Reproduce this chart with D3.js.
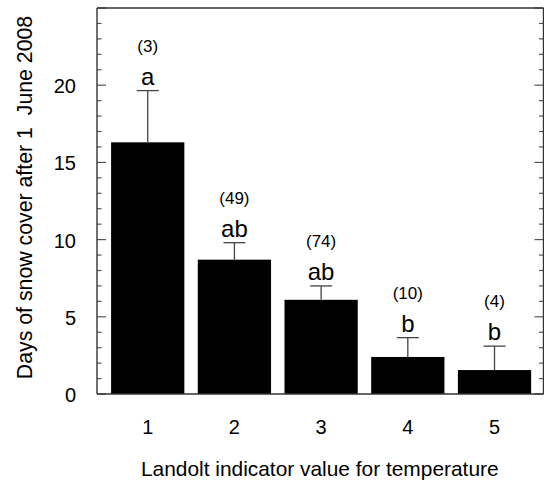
<!DOCTYPE html>
<html><head><meta charset="utf-8">
<script src="https://cdn.jsdelivr.net/npm/d3@7"></script>
<style>body{margin:0;background:#fff;} svg{display:block;} text{font-family:Arial,"Liberation Sans",sans-serif;fill:#000;white-space:pre;}</style>
</head><body>
<svg id="chart" width="544" height="481"></svg>
<script>
const categories = [1, 2, 3, 4, 5];
const means = [16.3, 8.7, 6.1, 2.4, 1.55];
const errors = [3.35, 1.1, 0.9, 1.25, 1.55];
const letters = ["a", "ab", "ab", "b", "b"];
const counts = ["(3)", "(49)", "(74)", "(10)", "(4)"];
const yMajorTicks = [0, 5, 10, 15, 20];
const yMinorTicks = d3.range(0, 26, 1);
const yTitle = "Days of snow cover after 1  June 2008";
const xTitle = "Landolt indicator value for temperature";

const svg = d3.select("#chart");
const L = 97, R = 543.5, T = 8, B = 394;
const x = d3.scaleLinear().domain([0.415, 5.565]).range([L, R]);
const y = d3.scaleLinear().domain([0, 25]).range([B, T]);
const barW = x(0.845) - x(0);
const capHalf = 11;

// bars
svg.append("g").selectAll("rect").data(categories).join("rect")
  .attr("x", (d) => x(d) - barW / 2)
  .attr("y", (d, i) => y(means[i]))
  .attr("width", barW)
  .attr("height", (d, i) => y(0) - y(means[i]))
  .attr("fill", "#000");

// error bars
const eb = svg.append("g").attr("stroke", "#444").attr("stroke-width", 1.3);
categories.forEach((d, i) => {
  eb.append("line").attr("x1", x(d)).attr("x2", x(d))
    .attr("y1", y(means[i])).attr("y2", y(means[i] + errors[i]));
  eb.append("line").attr("x1", x(d) - capHalf).attr("x2", x(d) + capHalf)
    .attr("y1", y(means[i] + errors[i])).attr("y2", y(means[i] + errors[i]));
});

// letters and counts
svg.append("g").selectAll("text").data(categories).join("text")
  .attr("x", (d) => x(d))
  .attr("y", (d, i) => y(means[i] + errors[i]) - 6)
  .attr("text-anchor", "middle").attr("font-size", 24)
  .text((d, i) => letters[i]);
svg.append("g").selectAll("text").data(categories).join("text")
  .attr("x", (d) => x(d))
  .attr("y", (d, i) => y(means[i] + errors[i]) - 39)
  .attr("text-anchor", "middle").attr("font-size", 17)
  .text((d, i) => counts[i]);

// ticks
const tk = svg.append("g").attr("stroke", "#555").attr("stroke-width", 1.2);
yMinorTicks.forEach((v) => {
  const major = yMajorTicks.includes(v) || v % 5 === 0;
  const len = major ? 9 : 4.5;
  tk.append("line").attr("x1", L).attr("x2", L + len).attr("y1", y(v)).attr("y2", y(v));
  tk.append("line").attr("x1", R - len).attr("x2", R).attr("y1", y(v)).attr("y2", y(v));
});

// frame
const fr = svg.append("g").attr("stroke", "#333").attr("stroke-width", 1.4).attr("fill", "none");
fr.append("line").attr("x1", L).attr("x2", L).attr("y1", T).attr("y2", B);
fr.append("line").attr("x1", L).attr("x2", R).attr("y1", B).attr("y2", B);
fr.append("line").attr("x1", L).attr("x2", R).attr("y1", T).attr("y2", T);
fr.append("line").attr("x1", R).attr("x2", R).attr("y1", T).attr("y2", B);

// y tick labels
svg.append("g").selectAll("text").data(yMajorTicks).join("text")
  .attr("x", L - 21).attr("y", (d) => y(d) + 8)
  .attr("text-anchor", "end").attr("font-size", 20)
  .text((d) => d);

// x tick labels
svg.append("g").selectAll("text").data(categories).join("text")
  .attr("x", (d) => x(d)).attr("y", 434)
  .attr("text-anchor", "middle").attr("font-size", 20)
  .text((d) => d);

// titles
svg.append("text").attr("x", (L + R) / 2 - 0.5).attr("y", 476)
  .attr("text-anchor", "middle").attr("font-size", 20.9).text(xTitle);
svg.append("text").attr("transform", `translate(32,${(T + B) / 2 - 3.5}) rotate(-90)`)
  .attr("text-anchor", "middle").attr("font-size", 21.3).text(yTitle);
</script>
</body></html>
